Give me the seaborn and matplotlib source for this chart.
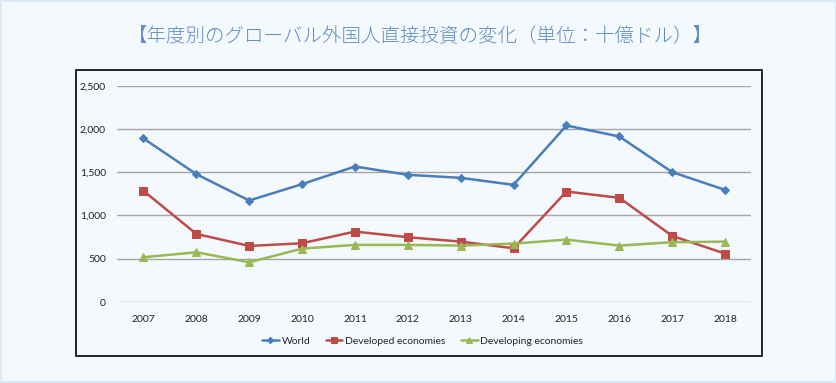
import pandas as pd
import numpy as np
import matplotlib.pyplot as plt
import matplotlib.patches as mpatches
import seaborn as sns

years = [2007, 2008, 2009, 2010, 2011, 2012, 2013, 2014, 2015, 2016, 2017, 2018]
world = [1890, 1478, 1173, 1362, 1566, 1470, 1435, 1354, 2040, 1913, 1501, 1296]
developed = [1285, 787, 648, 679, 814, 749, 698, 621, 1277, 1204, 764, 559]
developing = [517, 575, 459, 617, 660, 660, 652, 675, 721, 652, 691, 698]
series_names = ['World', 'Developed economies', 'Developing economies']
y_ticks = [0, 500, 1000, 1500, 2000, 2500]
title = '【年度別のグローバル外国人直接投資の変化（単位：十億ドル）】'

df = pd.DataFrame({
    'year': years * 3,
    'value': world + developed + developing,
    'series': [series_names[0]] * 12 + [series_names[1]] * 12 + [series_names[2]] * 12,
})

sns.set_theme(style='white')
plt.rcParams['font.family'] = ['Lato', 'DejaVu Sans']

bg = '#F4F9FE'
fig = plt.figure(figsize=(8.37, 3.83), dpi=100, facecolor=bg)

# outer thin border and the chart box
fig.patches.append(mpatches.Rectangle((0.001, 0.002), 0.998, 0.996, transform=fig.transFigure,
                                      fill=False, edgecolor='#DCEAF6', linewidth=1.5))
fig.patches.append(mpatches.Rectangle((76 / 837, 27 / 383), 686 / 837, 286 / 383,
                                      transform=fig.transFigure, fill=False,
                                      edgecolor='black', linewidth=1.2))

ax = fig.add_axes([117 / 837, 81 / 383, 634.5 / 837, 216.3 / 383])
ax.set_facecolor('none')

palette = {'World': '#4A7EBB', 'Developed economies': '#BE4B48', 'Developing economies': '#98B954'}
markers = {'World': 'D', 'Developed economies': 's', 'Developing economies': '^'}
sizes = {'World': 4, 'Developed economies': 6, 'Developing economies': 6}

for name in series_names:
    sub = df[df['series'] == name]
    sns.lineplot(data=sub, x='year', y='value', color=palette[name], marker=markers[name],
                 markersize=sizes[name], markeredgecolor=palette[name], linewidth=1.8,
                 label=name, ax=ax, zorder=3)

ax.set_xlim(2006.5, 2018.5)
ax.set_ylim(0, 2500)
ax.set_xticks(years)
ax.set_xticklabels([str(y) for y in years], fontsize=7.5, color='#222222')
ax.set_yticks(y_ticks)
ax.set_yticklabels([f'{v:,}' for v in y_ticks], fontsize=7.5, color='#222222')
ax.tick_params(axis='both', length=0)
ax.tick_params(axis='y', pad=8)
ax.tick_params(axis='x', pad=9)
ax.grid(axis='y', color='#A6A6A6', linewidth=1.0)
ax.set_axisbelow(True)
for s in ax.spines.values():
    s.set_visible(False)
ax.set_xlabel('')
ax.set_ylabel('')

ax.legend(loc='center', bbox_to_anchor=(0.505, 42 / 383), bbox_transform=fig.transFigure,
          ncol=3, frameon=False, fontsize=7.5, handlelength=1.6, handletextpad=0.25,
          columnspacing=1.5, markerscale=0.8)

fig.text(0.502, 1 - 37 / 383, title, ha='center', va='center', fontsize=14,
         color='#5F8CC2', fontweight='light', family=['Noto Sans CJK JP', 'DejaVu Sans'])

plt.savefig('out.png', dpi=100, facecolor=bg)
